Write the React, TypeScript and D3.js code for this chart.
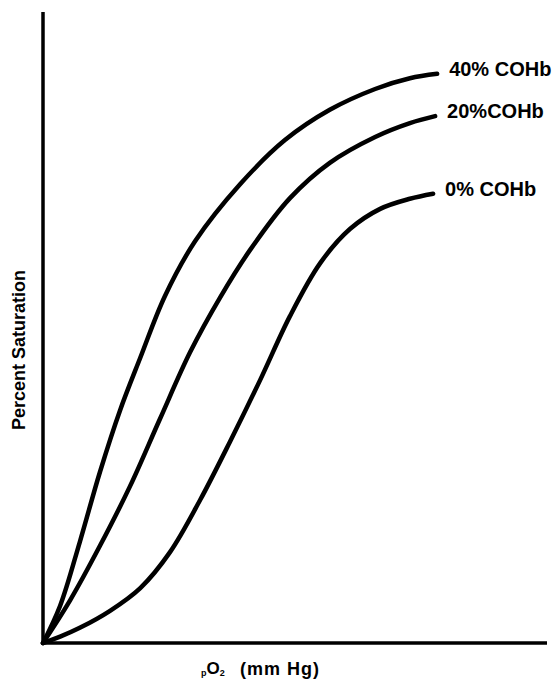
import React, { useEffect, useRef } from "react";
import * as d3 from "d3";

interface Pt {
  x: number;
  y: number;
}

// pO2 (arbitrary units, 0-100) vs percent saturation
const coHb40: Pt[] = [
  { x: 0, y: 0 }, { x: 3.4, y: 5.9 }, { x: 7.3, y: 16.0 }, { x: 11.3, y: 27.1 },
  { x: 15.3, y: 36.9 }, { x: 19.3, y: 45.2 }, { x: 24.2, y: 55.0 }, { x: 30.2, y: 63.7 },
  { x: 39.1, y: 72.7 }, { x: 48.0, y: 79.7 }, { x: 56.9, y: 84.5 }, { x: 65.9, y: 87.8 },
  { x: 72.8, y: 89.5 }, { x: 78.2, y: 90.2 }
];

const coHb20: Pt[] = [
  { x: 0, y: 0 }, { x: 5.4, y: 6.8 }, { x: 11.3, y: 15.4 }, { x: 17.3, y: 24.9 },
  { x: 23.2, y: 35.5 }, { x: 29.2, y: 46.1 }, { x: 35.1, y: 54.7 }, { x: 41.1, y: 62.3 },
  { x: 49.0, y: 70.5 }, { x: 56.9, y: 76.1 }, { x: 65.9, y: 80.2 }, { x: 72.8, y: 82.4 },
  { x: 77.8, y: 83.5 }
];

const coHb0: Pt[] = [
  { x: 0, y: 0 }, { x: 3.4, y: 1.0 }, { x: 7.3, y: 2.4 }, { x: 13.3, y: 5.1 },
  { x: 19.3, y: 8.7 }, { x: 25.2, y: 14.4 }, { x: 31.2, y: 22.7 }, { x: 37.1, y: 31.9 },
  { x: 43.1, y: 41.7 }, { x: 49.0, y: 51.8 }, { x: 55.0, y: 60.2 }, { x: 60.9, y: 65.6 },
  { x: 66.9, y: 68.8 }, { x: 72.8, y: 70.4 }, { x: 77.4, y: 71.2 }
];

const seriesLabels = ["40% COHb", "20%COHb", "0% COHb"];
const seriesData = [coHb40, coHb20, coHb0];

const OxygenCurves: React.FC = () => {
  const svgRef = useRef<SVGSVGElement | null>(null);

  useEffect(() => {
    if (!svgRef.current) return;
    const svg = d3.select(svgRef.current);
    svg.selectAll("*").remove();

    const width = 554;
    const height = 682;
    const margin = { top: 12, right: 7, bottom: 39, left: 43 };

    const x = d3.scaleLinear().domain([0, 100]).range([margin.left, width - margin.right]);
    const y = d3.scaleLinear().domain([0, 100]).range([height - margin.bottom, margin.top]);

    const font = "'Liberation Sans', Arial, Helvetica, sans-serif";

    // axes: plain lines, no ticks
    svg.append("line")
      .attr("x1", x(0)).attr("x2", x(0))
      .attr("y1", y(0)).attr("y2", y(100))
      .attr("stroke", "#000").attr("stroke-width", 3.5);
    svg.append("line")
      .attr("x1", x(0)).attr("x2", x(100))
      .attr("y1", y(0)).attr("y2", y(0))
      .attr("stroke", "#000").attr("stroke-width", 3.5);

    const line = d3.line<Pt>()
      .x(d => x(d.x))
      .y(d => y(d.y))
      .curve(d3.curveCatmullRom.alpha(0.5));

    seriesData.forEach((data, i) => {
      svg.append("path")
        .datum(data)
        .attr("d", line)
        .attr("fill", "none")
        .attr("stroke", "#000")
        .attr("stroke-width", 4.5)
        .attr("stroke-linecap", "round");

      const last = data[data.length - 1];
      svg.append("text")
        .attr("x", x(last.x) + 12)
        .attr("y", y(last.y) + 2)
        .attr("font-family", font)
        .attr("font-weight", "bold")
        .attr("font-size", 20)
        .attr("fill", "#000")
        .text(seriesLabels[i]);
    });

    // y label
    svg.append("text")
      .attr("transform", `translate(25,350) rotate(-90)`)
      .attr("text-anchor", "middle")
      .attr("font-family", font)
      .attr("font-weight", "bold")
      .attr("font-size", 18)
      .attr("fill", "#000")
      .text("Percent Saturation");

    // x label: pO2 (mm Hg)
    const xl = svg.append("text")
      .attr("x", 201)
      .attr("y", 675)
      .attr("font-family", font)
      .attr("font-weight", "bold")
      .attr("font-size", 17)
      .attr("fill", "#000");
    xl.append("tspan").attr("font-size", 9).attr("dy", 1).text("p");
    xl.append("tspan").attr("dy", -2).text("O");
    xl.append("tspan").attr("font-size", 9).attr("dy", 2).text("2");
    xl.append("tspan").attr("x", 240).attr("dy", -1).attr("font-size", 18)
      .attr("letter-spacing", 1).text("(mm Hg)");
  }, []);

  return (
    <svg
      ref={svgRef}
      width={554}
      height={682}
      style={{ position: "absolute", left: 0, top: 0, background: "#fff" }}
    />
  );
};

export default function App() {
  return <OxygenCurves />;
}
